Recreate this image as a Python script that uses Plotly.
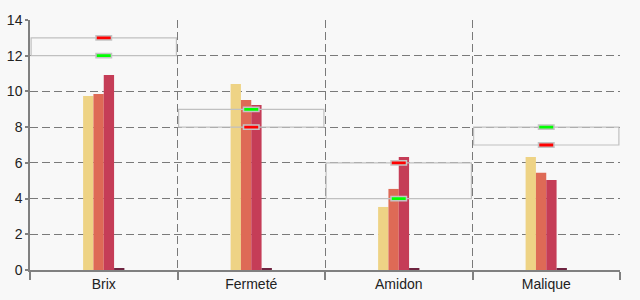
import plotly.graph_objects as go

categories = ["Brix", "Fermeté", "Amidon", "Malique"]
serie_1 = [9.74, 10.41, 3.53, 6.33]
serie_2 = [9.85, 9.52, 4.54, 5.45]
serie_3 = [10.92, 9.24, 6.33, 5.04]
serie_4 = [0.06, 0.06, 0.06, 0.06]
range_low = [12, 8, 4, 7]
range_high = [13, 9, 6, 8]
red_values = [13, 8, 6, 7]
green_values = [12, 9, 4, 8]
y_ticks = [0, 2, 4, 6, 8, 10, 12, 14]

bar_colors = ["#EED385", "#DE6A56", "#C53D57", "#6E2440"]
bar_width = 0.07
marker_h = 0.24

fig = go.Figure()

for i, (vals, col) in enumerate(zip([serie_1, serie_2, serie_3, serie_4], bar_colors)):
    fig.add_trace(go.Bar(
        x=categories, y=vals, width=bar_width, offset=-0.14 + i * bar_width,
        marker=dict(color=col, line=dict(width=0)), hoverinfo="skip"))

fig.add_trace(go.Bar(
    x=categories, y=[h - l for h, l in zip(range_high, range_low)], base=range_low,
    width=0.985, marker=dict(color="rgba(0,0,0,0)", line=dict(color="#C0C0C0", width=1.2)),
    hoverinfo="skip"))

for vals, col in [(red_values, "#FF0000"), (green_values, "#00FF00")]:
    fig.add_trace(go.Bar(
        x=categories, y=[marker_h] * len(vals), base=[v - marker_h / 2 for v in vals],
        width=0.105, marker=dict(color=col, line=dict(color="#C4C4C4", width=1.5)),
        hoverinfo="skip"))

fig.update_layout(
    width=640, height=300, barmode="overlay", showlegend=False,
    paper_bgcolor="#F8F8F8", plot_bgcolor="#F8F8F8",
    margin=dict(l=30, r=20, t=20, b=30, autoexpand=False),
    font=dict(family="Liberation Sans, Arial, sans-serif", size=14, color="#222222"),
    xaxis=dict(
        type="category", range=[-0.5, 3.5], tickson="boundaries", automargin=False,
        ticks="outside", ticklen=8, tickcolor="#808080", tickwidth=1.5,
        showline=True, linecolor="#808080", linewidth=1.5,
        showgrid=True, gridcolor="#7A7A7A", gridwidth=1, griddash="8px,4px",
        fixedrange=True),
    yaxis=dict(
        range=[0, 14], tickvals=y_ticks, ticks="outside", ticklen=3, automargin=False,
        tickcolor="#808080", tickwidth=1.5,
        showline=True, linecolor="#808080", linewidth=1.5,
        showgrid=True, gridcolor="#7A7A7A", gridwidth=1, griddash="8px,4px",
        zeroline=False, fixedrange=True),
)

fig.write_html("out.html")
